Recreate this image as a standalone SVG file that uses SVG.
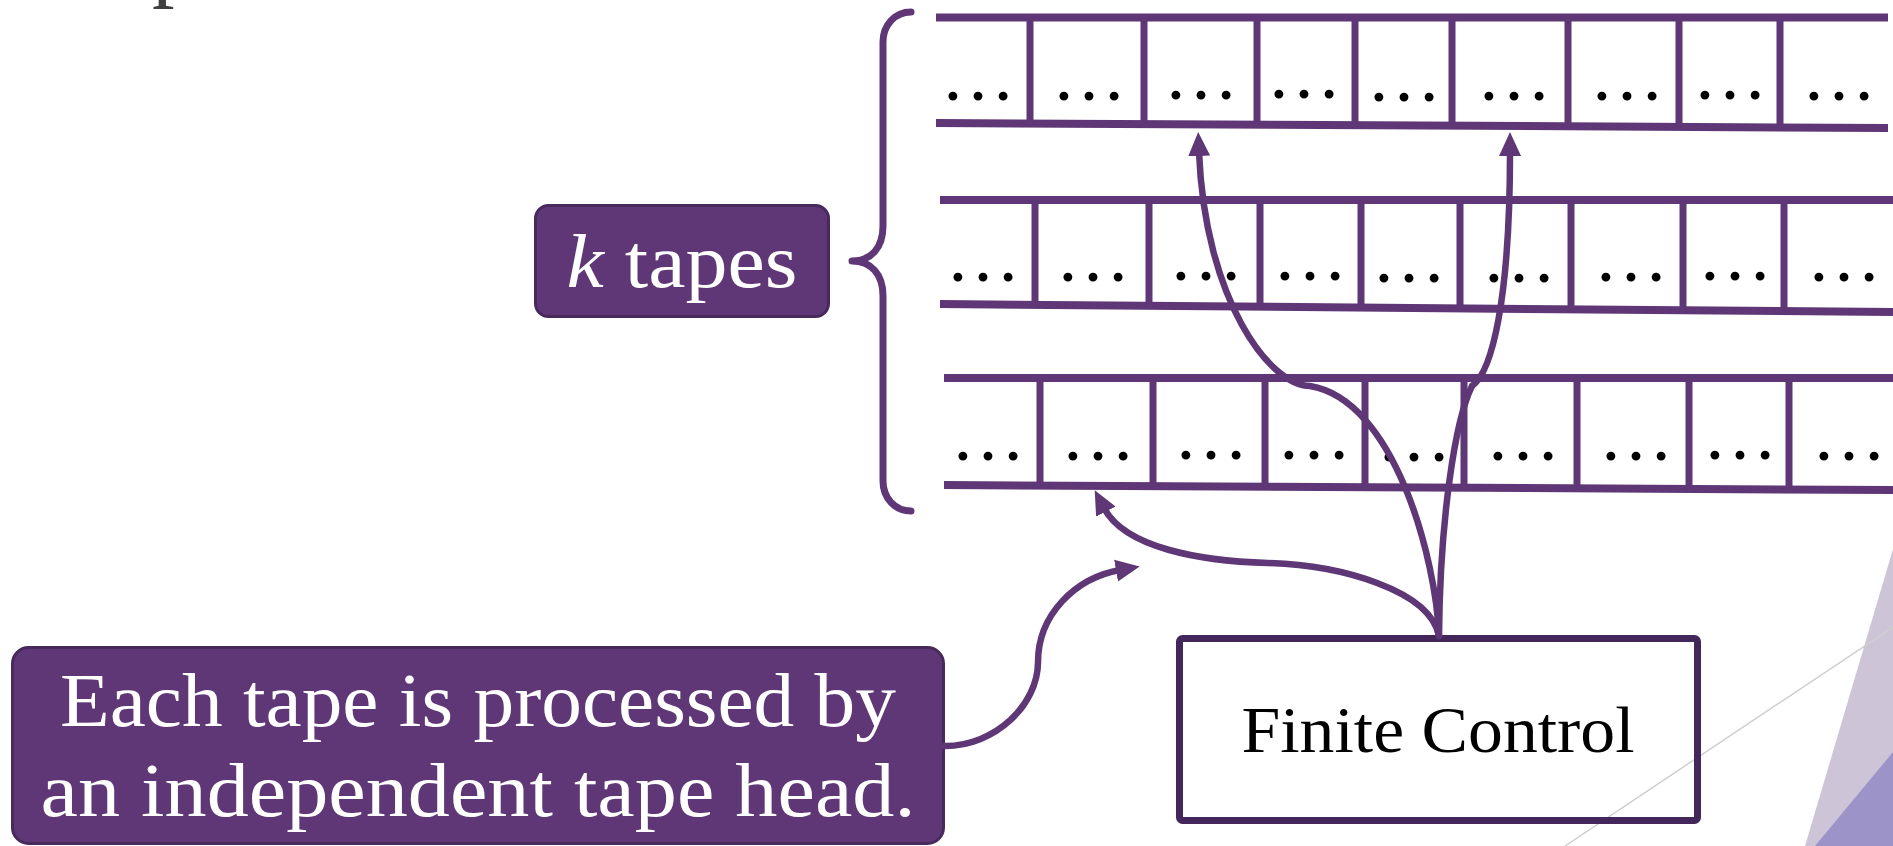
<svg xmlns="http://www.w3.org/2000/svg" width="1893" height="846" viewBox="0 0 1893 846">
<style>
.tl{stroke:#5f3776;stroke-width:8;fill:none}
.tv{stroke:#5f3776;stroke-width:7;fill:none}
.dots{font-family:"Liberation Serif",serif;font-size:75px;fill:#000;text-anchor:middle}
.cn{stroke:#5f3776;stroke-width:6.5;fill:none;stroke-linecap:round}
.lbl{font-family:"Liberation Serif",serif;fill:#fff;text-anchor:middle}
</style>
<defs>
<marker id="ah" markerUnits="userSpaceOnUse" markerWidth="24" markerHeight="23" viewBox="0 0 24 23" refX="4" refY="11.5" orient="auto"><path d="M0,0.5 L24,11.5 L0,22.5 z" fill="#5f3776"/></marker>
</defs>
<rect width="1893" height="846" fill="#fff"/>
<g id="decor">
<polygon points="1893,549 1805,846 1893,846" fill="#cec4d7"/>
<polygon points="1893,752 1815,846 1893,846" fill="#9c94c9"/>
<line x1="1565" y1="846" x2="1893" y2="627" stroke="#cfcfcf" stroke-width="1.5"/>
</g>
<text id="title-fragment" x="152" y="-10" font-family="Liberation Serif, serif" font-size="90" fill="#404040">p</text>

<g id="tape1">
<line class="tl" x1="936" y1="17.5" x2="1888" y2="17.5"/>
<line class="tl" x1="936" y1="123" x2="1888" y2="128"/>
<path class="tv" d="M1030,17V124 M1144,17V124 M1257,17V125 M1355,17V125 M1452,17V126 M1568,17V126 M1679,17V127 M1780,17V127"/>
<text class="dots" x="978" y="100">…</text><text class="dots" x="1089" y="100">…</text><text class="dots" x="1201" y="99">…</text><text class="dots" x="1304" y="98">…</text><text class="dots" x="1404" y="101">…</text><text class="dots" x="1514" y="100">…</text><text class="dots" x="1627" y="100">…</text><text class="dots" x="1730" y="99">…</text><text class="dots" x="1839" y="100">…</text>
</g>
<g id="tape2">
<line class="tl" x1="940" y1="200" x2="1893" y2="200"/>
<line class="tl" x1="940" y1="304" x2="1893" y2="312"/>
<path class="tv" d="M1035,200V305 M1149,200V306 M1260,200V307 M1361,200V308 M1460,200V308 M1571,200V309 M1683,200V310 M1784,200V311"/>
<text class="dots" x="983" y="281">…</text><text class="dots" x="1093" y="281">…</text><text class="dots" x="1206" y="280">…</text><text class="dots" x="1310" y="280">…</text><text class="dots" x="1409" y="282">…</text><text class="dots" x="1519" y="282">…</text><text class="dots" x="1631" y="281">…</text><text class="dots" x="1735" y="280">…</text><text class="dots" x="1844" y="281">…</text>
</g>
<g id="tape3">
<line class="tl" x1="944" y1="378" x2="1893" y2="378"/>
<line class="tl" x1="944" y1="485" x2="1893" y2="490"/>
<path class="tv" d="M1040,378V486 M1153,378V486 M1265,378V487 M1365,378V487 M1464,378V488 M1577,378V488 M1689,378V489 M1789,378V489"/>
<text class="dots" x="988" y="460">…</text><text class="dots" x="1098" y="460">…</text><text class="dots" x="1211" y="459">…</text><text class="dots" x="1314" y="459">…</text><text class="dots" x="1414" y="461">…</text><text class="dots" x="1523" y="460">…</text><text class="dots" x="1636" y="460">…</text><text class="dots" x="1740" y="459">…</text><text class="dots" x="1849" y="460">…</text>
</g>
<g id="brace">
<path d="M911,12 C895,12 883,25 883,42 L883,226 C883,248 871,261 852,261 C871,261 883,274 883,296 L883,481 C883,498 895,511 911,511" fill="none" stroke="#5f3776" stroke-width="7" stroke-linecap="round" stroke-linejoin="round"/>
</g>
<g id="k-tapes">
<rect x="535.5" y="205.5" width="293" height="111" rx="13" fill="#5f3776" stroke="#48295c" stroke-width="3"/>
<text class="lbl" x="682" y="287" font-size="76" textLength="231" lengthAdjust="spacingAndGlyphs"><tspan font-style="italic">k</tspan> tapes</text>
</g>
<g id="callout">
<rect x="12.5" y="647.5" width="931" height="196" rx="16" fill="#5f3776" stroke="#48295c" stroke-width="3"/>
<text class="lbl" x="478" y="726" font-size="76" textLength="836" lengthAdjust="spacingAndGlyphs">Each tape is processed by</text>
<text class="lbl" x="478" y="816" font-size="76" textLength="875" lengthAdjust="spacingAndGlyphs">an independent tape head.</text>
</g>
<g id="finite-control">
<rect x="1179.5" y="638.5" width="518" height="182" rx="3" fill="none" stroke="#44275a" stroke-width="7"/>
<text x="1438" y="752" font-family="Liberation Serif, serif" font-size="65" fill="#000" text-anchor="middle" textLength="393" lengthAdjust="spacingAndGlyphs">Finite Control</text>
</g>
<g id="connectors">
<path class="cn" marker-end="url(#ah)" d="M945,746 C995,746 1038,705 1038,662 C1038,615 1075,578 1120,570"/>
<path class="cn" marker-end="url(#ah)" d="M1439,636 C1430,590 1340,565 1268,563 C1200,561 1125,548 1104,508"/>
<path class="cn" marker-end="url(#ah)" d="M1439,636 C1436,560 1395,400 1310,386 C1270,386 1205,300 1199,152"/>
<path class="cn" marker-end="url(#ah)" d="M1439,636 C1440,520 1455,420 1472,386 C1492,372 1510,300 1510,152"/>
</g>
</svg>
